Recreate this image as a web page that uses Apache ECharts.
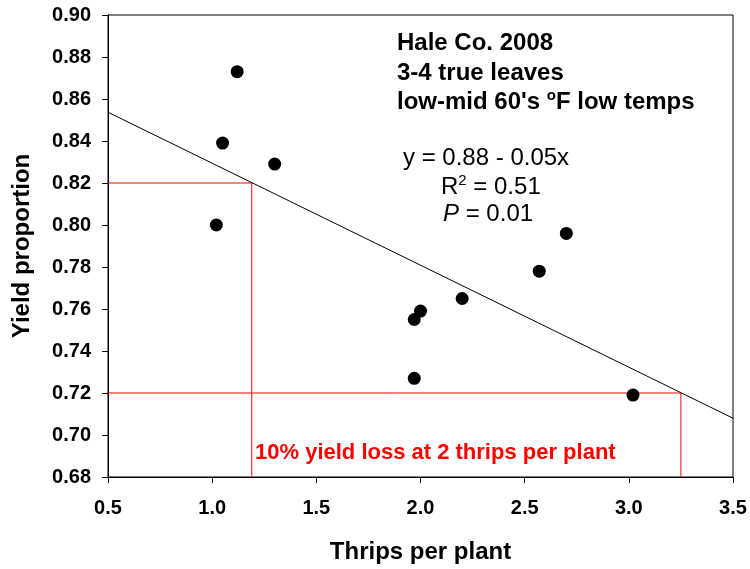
<!DOCTYPE html>
<html>
<head>
<meta charset="utf-8">
<script src="https://cdn.jsdelivr.net/npm/echarts@6/dist/echarts.min.js"></script>
<style>html,body{margin:0;padding:0;background:#fff;}#c{width:750px;height:569px;}</style>
</head>
<body>
<div id="c"></div>
<script>
// Observed data
const thrips = [1.02, 1.05, 1.12, 1.30, 1.97, 2.00, 1.97, 2.20, 2.57, 2.70, 3.02];
const yieldProp = [0.800, 0.839, 0.873, 0.829, 0.755, 0.759, 0.727, 0.765, 0.778, 0.796, 0.719];
// Regression line end points (y = 0.88 - 0.05x)
const fitX = [0.5, 3.5];
const fitY = [0.8537, 0.708];
// Reference (threshold) lines
const ref82X = [0.5, 1.19, 1.19];
const ref82Y = [0.82, 0.82, 0.68];
const ref72X = [0.5, 3.25, 3.25];
const ref72Y = [0.72, 0.72, 0.68];
// Axis settings
const xTicks = [0.5, 1.0, 1.5, 2.0, 2.5, 3.0, 3.5];
const yTicks = [0.68, 0.70, 0.72, 0.74, 0.76, 0.78, 0.80, 0.82, 0.84, 0.86, 0.88, 0.90];

const FONT = '"Liberation Sans", Arial, sans-serif';
const zip = (a, b) => a.map((v, i) => [v, b[i]]);

const chart = echarts.init(document.getElementById('c'), null, {renderer: 'canvas'});
chart.setOption({
  animation: false,
  backgroundColor: '#fff',
  grid: {left: 108, right: 17, top: 15, bottom: 92, show: true, borderColor: '#000', borderWidth: 1, backgroundColor: 'transparent'},
  xAxis: {
    type: 'value', min: xTicks[0], max: xTicks[xTicks.length - 1], interval: 0.5,
    name: 'Thrips per plant', nameLocation: 'middle', nameGap: 63,
    nameTextStyle: {fontFamily: FONT, fontSize: 24, fontWeight: 'bold', color: '#000'},
    axisLine: {lineStyle: {color: '#000', width: 1}},
    axisTick: {length: 6, lineStyle: {color: '#000'}},
    axisLabel: {margin: 21, fontFamily: FONT, fontSize: 20, fontWeight: 'bold', color: '#000', formatter: v => v.toFixed(1)},
    splitLine: {show: false}
  },
  yAxis: {
    type: 'value', min: yTicks[0], max: yTicks[yTicks.length - 1], interval: 0.02,
    name: 'Yield proportion', nameLocation: 'middle', nameGap: 74, nameRotate: 90,
    nameTextStyle: {fontFamily: FONT, fontSize: 24, fontWeight: 'bold', color: '#000'},
    axisLine: {show: true, lineStyle: {color: '#000', width: 1}},
    axisTick: {show: true, length: 6, lineStyle: {color: '#000'}},
    axisLabel: {margin: 17, fontFamily: FONT, fontSize: 20, fontWeight: 'bold', color: '#000', formatter: v => v.toFixed(2)},
    splitLine: {show: false}
  },
  series: [
    {type: 'line', data: zip(ref82X, ref82Y), symbol: 'none', lineStyle: {color: '#ff0000', width: 1}, z: 1},
    {type: 'line', data: zip(ref72X, ref72Y), symbol: 'none', lineStyle: {color: '#ff0000', width: 1}, z: 1},
    {type: 'line', data: zip(fitX, fitY), symbol: 'none', lineStyle: {color: '#000', width: 1}, z: 2},
    {type: 'scatter', data: zip(thrips, yieldProp), symbol: 'circle', symbolSize: 13, itemStyle: {color: '#000', opacity: 1}, z: 3}
  ],
  graphic: [
    {type: 'text', left: 397, top: 31, style: {text: 'Hale Co. 2008', font: 'bold 24px ' + FONT, fill: '#000'}},
    {type: 'text', left: 397, top: 61, style: {text: '3-4 true leaves', font: 'bold 24px ' + FONT, fill: '#000'}},
    {type: 'text', left: 397, top: 88, style: {
      text: "{a|low-mid 60's }{s|o}{a|F low temps}",
      rich: {
        a: {fontFamily: FONT, fontSize: 24, fontWeight: 'bold', fill: '#000', lineHeight: 28},
        s: {fontFamily: FONT, fontSize: 15, fontWeight: 'bold', fill: '#000', lineHeight: 28, verticalAlign: 'top', padding: [0, 0, 8, 0]}
      }}},
    {type: 'text', left: 403, top: 146, style: {text: 'y = 0.88 - 0.05x', font: '24px ' + FONT, fill: '#000'}},
    {type: 'text', left: 441, top: 173, style: {
      text: '{a|R}{s|2}{a| = 0.51}',
      rich: {
        a: {fontFamily: FONT, fontSize: 24, fill: '#000', lineHeight: 28},
        s: {fontFamily: FONT, fontSize: 15, fill: '#000', lineHeight: 28, verticalAlign: 'top', padding: [0, 0, 8, 0]}
      }}},
    {type: 'text', left: 443, top: 202, style: {
      text: '{i|P}{a| = 0.01}',
      rich: {
        i: {fontFamily: FONT, fontSize: 24, fontStyle: 'italic', fill: '#000', lineHeight: 28},
        a: {fontFamily: FONT, fontSize: 24, fill: '#000', lineHeight: 28}
      }}},
    {type: 'text', left: 255, top: 442, style: {text: '10% yield loss at 2 thrips per plant', font: 'bold 22px ' + FONT, fill: '#ff0000'}}
  ]
});
</script>
</body>
</html>
